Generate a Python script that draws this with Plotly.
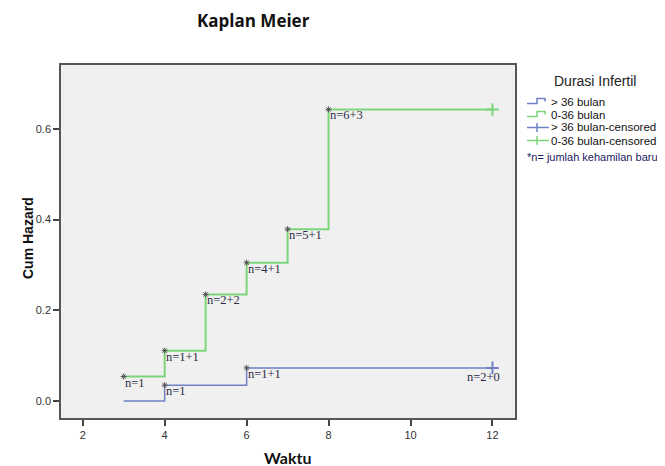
import plotly.graph_objects as go

# Data
green_t = [3, 4, 5, 6, 7, 8, 12]
green_h = [0.054, 0.111, 0.235, 0.305, 0.379, 0.643, 0.643]
green_evt_t = [3, 4, 5, 6, 7, 8]
green_evt_h = [0.054, 0.111, 0.235, 0.305, 0.379, 0.643]
green_labels = ["n=1", "n=1+1", "n=2+2", "n=4+1", "n=5+1", "n=6+3"]
green_cens_t = [12]
green_cens_h = [0.643]

blue_t = [3, 4, 6, 12]
blue_h = [0.0, 0.035, 0.073, 0.073]
blue_evt_t = [4, 6]
blue_evt_h = [0.035, 0.073]
blue_labels = ["n=1", "n=1+1"]
blue_cens_t = [12]
blue_cens_h = [0.073]
blue_cens_label = "n=2+0"

x_ticks = [2, 4, 6, 8, 10, 12]
y_ticks = [0.0, 0.2, 0.4, 0.6]

legend_title = "Durasi Infertil"
legend_names = ["> 36 bulan", "0-36 bulan", "> 36 bulan-censored", "0-36 bulan-censored"]
legend_note = "*n= jumlah kehamilan baru"

BLUE = "#6f80c6"
GREEN = "#7bd67b"
DARK = "#555"
LBL = "#2b2b45"

# The page body has an 8px margin, so the figure is offset by 8px.
OFF = 8
W, H = 665 - OFF, 466 - OFF
L, R, T, B = 61 - OFF, 150, 65 - OFF, 48
PW, PH = W - L - R, H - T - B


def px(x):  # screen pixel x -> paper
    return (x - OFF - L) / PW


def py(y):  # screen pixel y -> paper
    return (OFF + H - B - y) / PH


fig = go.Figure()
fig.add_trace(go.Scatter(x=blue_t, y=blue_h, mode="lines", line=dict(color=BLUE, width=1.5, shape="hv"),
                         name=legend_names[0], showlegend=False))
fig.add_trace(go.Scatter(x=green_t, y=green_h, mode="lines", line=dict(color=GREEN, width=2, shape="hv"),
                         name=legend_names[1], showlegend=False))
fig.add_trace(go.Scatter(x=blue_cens_t, y=blue_cens_h, mode="markers",
                         marker=dict(symbol="cross-thin-open", size=9, color=BLUE, line=dict(color=BLUE, width=2)),
                         name=legend_names[2], showlegend=False))
fig.add_trace(go.Scatter(x=green_cens_t, y=green_cens_h, mode="markers",
                         marker=dict(symbol="cross-thin-open", size=9, color=GREEN, line=dict(color=GREEN, width=2)),
                         name=legend_names[3], showlegend=False))
fig.add_trace(go.Scatter(x=green_evt_t + blue_evt_t, y=green_evt_h + blue_evt_h, mode="markers",
                         marker=dict(symbol="asterisk-open", size=5, color=DARK, line=dict(color=DARK, width=1)),
                         showlegend=False, hoverinfo="skip"))

lbl_font = dict(family="Liberation Serif, DejaVu Serif, serif", size=12.5, color=LBL)
for t, h, s in zip(green_evt_t + blue_evt_t, green_evt_h + blue_evt_h, green_labels + blue_labels):
    fig.add_annotation(x=t, y=h, text=s, showarrow=False, xanchor="left", yanchor="top",
                       xshift=-1, yshift=3, font=lbl_font)
fig.add_annotation(x=blue_cens_t[0], y=blue_cens_h[0], text=blue_cens_label, showarrow=False,
                   xanchor="right", yanchor="top", xshift=10, yshift=0, font=lbl_font)

# Title and axis titles
fig.add_annotation(x=px(253), xref="paper", y=py(20), yref="paper", yanchor="middle", xanchor="center",
                   text="<b>Kaplan Meier</b>", showarrow=False, borderpad=0,
                   font=dict(family="Open Sans, Lato, sans-serif", size=17, color="#111"))
fig.add_annotation(x=px(287), xref="paper", y=py(457), yref="paper", yanchor="middle", xanchor="center",
                   text="<b>Waktu</b>", showarrow=False,
                   font=dict(family="Lato, Open Sans, sans-serif", size=16, color="#111"))
fig.add_annotation(x=px(28), xref="paper", y=py(238), yref="paper", yanchor="middle", xanchor="center",
                   text="<b>Cum Hazard</b>", showarrow=False, textangle=-90,
                   font=dict(family="Liberation Sans, Arial, sans-serif", size=14, color="#111"))

# Custom legend
leg_font = dict(family="Liberation Sans, Arial, sans-serif", size=11.5, color="#111")
fig.add_annotation(x=px(595), xref="paper", y=py(80.5), yref="paper", xanchor="center", yanchor="middle",
                   text=legend_title, showarrow=False,
                   font=dict(family="Liberation Sans, Arial, sans-serif", size=14, color="#222"))
rows = [101.5, 114.5, 127.5, 140.5]
colors = [BLUE, GREEN, BLUE, GREEN]
for i, (name, yy, c) in enumerate(zip(legend_names, rows, colors)):
    fig.add_annotation(x=px(549), xref="paper", y=py(yy), yref="paper", xanchor="left", yanchor="middle",
                       text=name, showarrow=False, font=leg_font)
    if i < 2:
        path = (f"M {px(527)} {py(yy + 2)} L {px(537)} {py(yy + 2)} L {px(537)} {py(yy - 3)} "
                f"L {px(545)} {py(yy - 3)} L {px(545)} {py(yy)}")
        fig.add_shape(type="path", xref="paper", yref="paper", path=path,
                      line=dict(color=c, width=1.5))
    else:
        fig.add_shape(type="line", xref="paper", yref="paper", x0=px(527), x1=px(549), y0=py(yy), y1=py(yy),
                      line=dict(color=c, width=1.5))
        fig.add_shape(type="line", xref="paper", yref="paper", x0=px(537), x1=px(537), y0=py(yy - 4.5),
                      y1=py(yy + 4.5), line=dict(color=c, width=1.5))
fig.add_annotation(x=px(525), xref="paper", y=py(157), yref="paper", xanchor="left", yanchor="middle",
                   text=legend_note, showarrow=False,
                   font=dict(family="Liberation Sans, Arial, sans-serif", size=11, color="#1a1a60"))

axis_common = dict(showline=True, linecolor="#555", linewidth=1.5, mirror=True, ticks="outside",
                   ticklen=6, tickwidth=1.5, tickcolor="#444", showgrid=False, zeroline=False,
                   automargin=False,
                   tickfont=dict(family="Liberation Sans, Arial, sans-serif", size=11, color="#333"))
fig.update_xaxes(range=[1.47, 12.55], tickvals=x_ticks, **axis_common)
fig.update_yaxes(range=[-0.0375, 0.741], tickvals=y_ticks, tickformat=".1f", **axis_common)

fig.update_layout(
    width=W, height=H,
    margin=dict(l=L, r=R, t=T, b=B),
    plot_bgcolor="#f0f0f0", paper_bgcolor="white",
    showlegend=False,
)

fig.write_html("out.html")
